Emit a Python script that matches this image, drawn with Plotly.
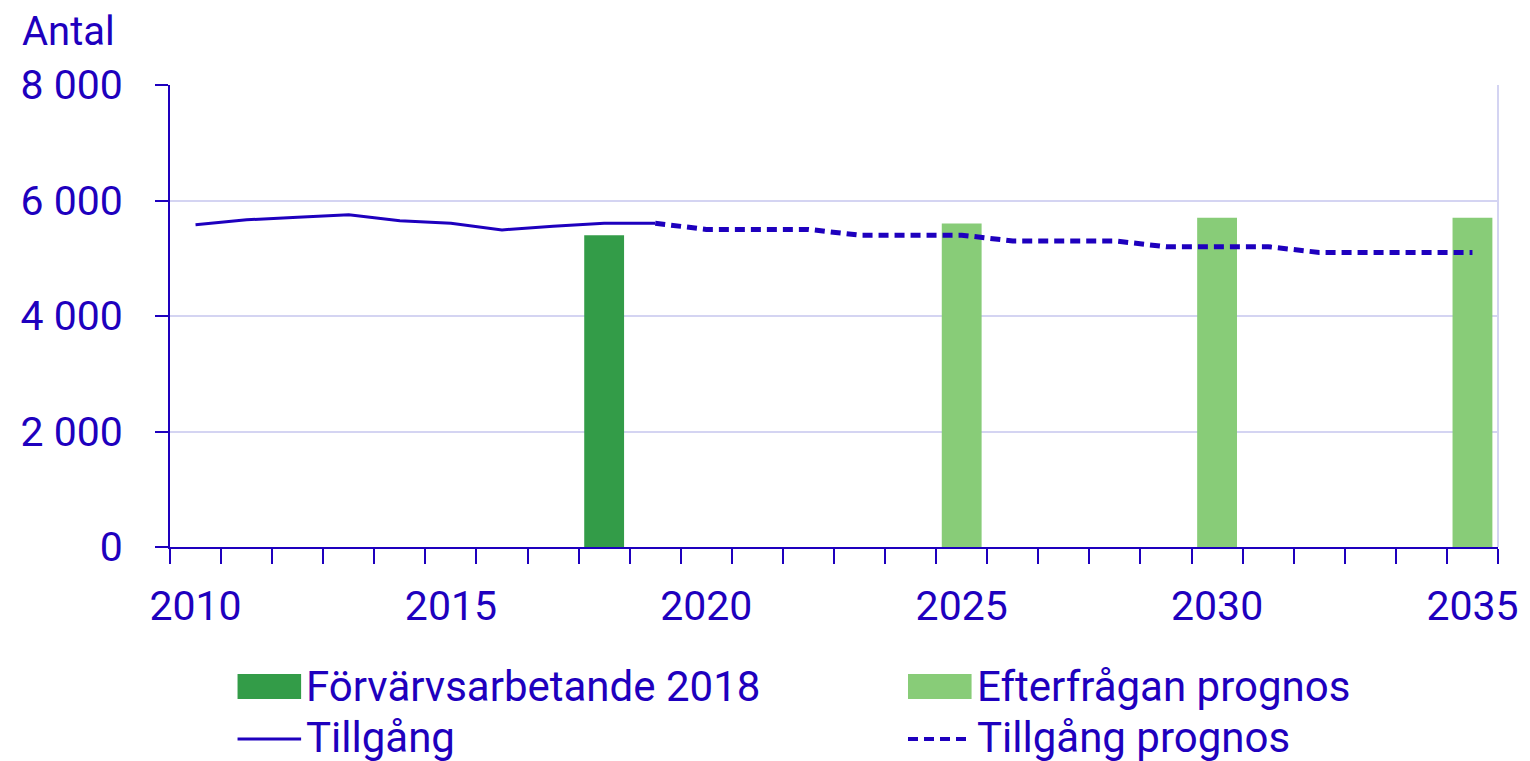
import plotly.graph_objects as go

years_hist = [2010, 2011, 2012, 2013, 2014, 2015, 2016, 2017, 2018, 2019]
tillgang = [5580, 5665, 5710, 5755, 5650, 5605, 5490, 5555, 5605, 5605]

years_prog = [2019, 2020, 2021, 2022, 2023, 2024, 2025, 2026, 2027, 2028,
              2029, 2030, 2031, 2032, 2033, 2034, 2035]
tillgang_prog = [5605, 5500, 5500, 5500, 5400, 5400, 5400, 5300, 5300, 5300,
                 5200, 5200, 5200, 5100, 5100, 5100, 5100]

years_forv = [2018]
forvarv = [5400]

years_eft = [2025, 2030, 2035]
efterfragan = [5600, 5700, 5700]

tick_years = [2010, 2015, 2020, 2025, 2030, 2035]
y_ticks = [0, 2000, 4000, 6000, 8000]

BLUE = "#1e00be"
DARK_GREEN = "#339c48"
LIGHT_GREEN = "#88cc78"
GRID = "#d4d4f2"
FONT = "Roboto"

# page body has an 8px margin; compensate so the figure fills the window
OFF = 8
W, H = 1530 - OFF, 761 - OFF
L, R, T, B = 168 - OFF, 25, 85 - OFF, 214
PW = W - L - R
PH = H - T - B

fig = go.Figure()
fig.add_trace(go.Bar(x=years_forv, y=forvarv, width=0.78, marker_color=DARK_GREEN,
                     marker_line_width=0, name="Förvärvsarbetande 2018"))
fig.add_trace(go.Bar(x=years_eft, y=efterfragan, width=0.78, marker_color=LIGHT_GREEN,
                     marker_line_width=0, name="Efterfrågan prognos"))
fig.add_trace(go.Scatter(x=years_hist, y=tillgang, mode="lines",
                         line=dict(color=BLUE, width=3), name="Tillgång"))
fig.add_trace(go.Scatter(x=years_prog, y=tillgang_prog, mode="lines",
                         line=dict(color=BLUE, width=5, dash="10px,6px"),
                         name="Tillgång prognos"))

fig.update_layout(
    width=W, height=H,
    margin=dict(l=L, r=R, t=T, b=B),
    paper_bgcolor="white", plot_bgcolor="white",
    showlegend=False,
    barmode="overlay",
    separators=", ",
    font=dict(family=FONT, size=40, color=BLUE),
)
fig.update_xaxes(
    range=[2009.5, 2035.5],
    tickvals=tick_years,
    ticks="",
    showgrid=False,
    showline=True, linecolor=BLUE, linewidth=2,
    tickfont=dict(size=41, color=BLUE, family=FONT),
    ticklabelstandoff=22,
    minor=dict(ticks="outside", tick0=2009.5, dtick=1, ticklen=15,
               tickwidth=2, tickcolor=BLUE, showgrid=False),
    zeroline=False,
)
fig.update_yaxes(
    range=[0, 8000],
    tickvals=y_ticks,
    tickformat=",d",
    ticks="outside", ticklen=13, tickwidth=2, tickcolor=BLUE,
    showline=True, linecolor=BLUE, linewidth=2,
    showgrid=True, gridcolor=GRID, gridwidth=2,
    tickfont=dict(size=41, color=BLUE, family=FONT),
    ticklabelstandoff=24,
    zeroline=False,
)

# right border of plot area
fig.add_shape(type="line", xref="paper", yref="paper", x0=1, x1=1, y0=0, y1=1,
              line=dict(color=GRID, width=2))


# reference-pixel helpers (reference plot area: x 168..1505, y 85..547)
def px_x(px):
    return (px - 168) / float(PW)


def px_y(py):
    return (547 - py) / float(PH)


# title
fig.add_annotation(text="Antal", xref="paper", yref="paper",
                   x=px_x(17), y=px_y(32), xanchor="left", yanchor="middle",
                   showarrow=False, font=dict(size=40, color=BLUE, family=FONT))

# manual legend
legend_items = [
    ("Förvärvsarbetande 2018", "bar", DARK_GREEN, 236, 686),
    ("Efterfrågan prognos", "bar", LIGHT_GREEN, 911, 686),
    ("Tillgång", "line", BLUE, 236, 737),
    ("Tillgång prognos", "dash", BLUE, 911, 737),
]
for label, kind, color, x0, yc in legend_items:
    if kind == "bar":
        fig.add_shape(type="rect", xref="paper", yref="paper",
                      x0=px_x(x0), x1=px_x(x0 + 64), y0=px_y(yc - 12), y1=px_y(yc + 13),
                      fillcolor=color, line=dict(width=0))
    elif kind == "line":
        fig.add_shape(type="line", xref="paper", yref="paper",
                      x0=px_x(x0), x1=px_x(x0 + 64), y0=px_y(yc + 2), y1=px_y(yc + 2),
                      line=dict(color=color, width=3))
    else:
        fig.add_shape(type="line", xref="paper", yref="paper",
                      x0=px_x(x0), x1=px_x(x0 + 64), y0=px_y(yc + 2), y1=px_y(yc + 2),
                      line=dict(color=color, width=4, dash="10px,6px"))
    fig.add_annotation(text=label, xref="paper", yref="paper",
                       x=px_x(x0 + 67), y=px_y(yc), xanchor="left", yanchor="middle",
                       showarrow=False, font=dict(size=42, color=BLUE, family=FONT))

fig.write_html("out.html")
